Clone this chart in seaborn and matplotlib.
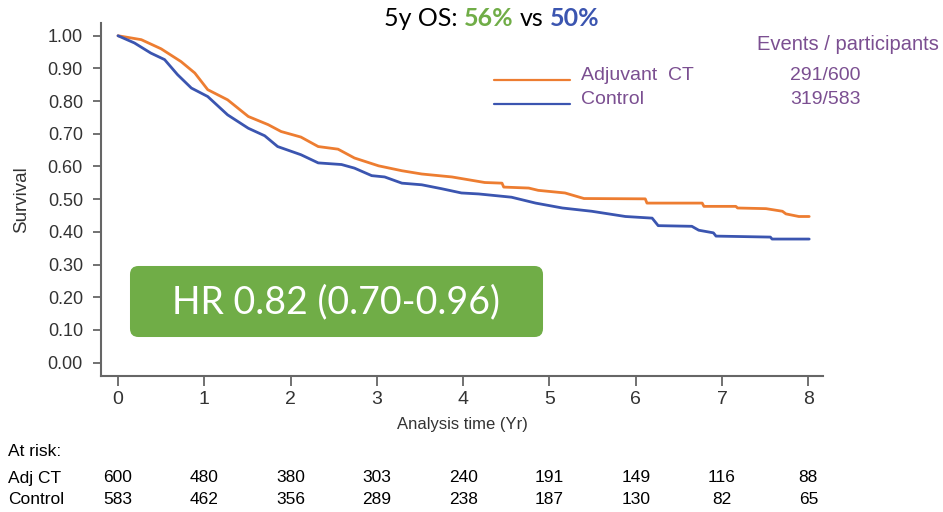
import numpy as np
import pandas as pd
import matplotlib
matplotlib.use("Agg")
import matplotlib.pyplot as plt
import seaborn as sns
from matplotlib.patches import FancyBboxPatch
from matplotlib.lines import Line2D
from matplotlib.transforms import blended_transform_factory

# Kaplan-Meier curves (time in years, survival);
# repeated times mark the visible drops
adj_time = [0, 0.27, 0.50, 0.73, 0.89, 1.04, 1.27, 1.51, 1.74, 1.89, 2.12, 2.32, 2.55,
            2.74, 3.02, 3.29, 3.52, 3.87, 4.25, 4.45, 4.47, 4.76, 4.87, 5.18, 5.40,
            6.11, 6.13, 6.77, 6.79, 7.16, 7.18, 7.51, 7.70, 7.74, 7.89, 8.01]
adj_surv = [1.00, 0.988, 0.960, 0.921, 0.886, 0.835, 0.804, 0.753, 0.728, 0.707, 0.690,
            0.661, 0.653, 0.626, 0.602, 0.587, 0.577, 0.568, 0.551, 0.549, 0.537, 0.534,
            0.527, 0.519, 0.502, 0.501, 0.488, 0.488, 0.478, 0.478, 0.473, 0.471, 0.463,
            0.455, 0.447, 0.447]

ctl_time = [0, 0.19, 0.38, 0.54, 0.69, 0.85, 1.04, 1.27, 1.51, 1.70, 1.85, 2.12, 2.32,
            2.59, 2.74, 2.94, 3.09, 3.29, 3.52, 3.75, 3.98, 4.18, 4.56, 4.84, 5.15, 5.49,
            5.88, 6.19, 6.26, 6.65, 6.73, 6.90, 6.93, 7.56, 7.58, 8.01]
ctl_surv = [1.00, 0.978, 0.947, 0.927, 0.881, 0.840, 0.814, 0.758, 0.717, 0.694, 0.661,
            0.636, 0.611, 0.606, 0.595, 0.572, 0.568, 0.549, 0.544, 0.532, 0.519, 0.516,
            0.506, 0.488, 0.473, 0.463, 0.447, 0.442, 0.419, 0.417, 0.405, 0.397, 0.387,
            0.384, 0.378, 0.378]

arms = ["Adjuvant CT", "Control"]
events = ["291/600", "319/583"]
risk_times = [0, 1, 2, 3, 4, 5, 6, 7, 8]
risk_adj = [600, 480, 380, 303, 240, 191, 149, 116, 88]
risk_ctl = [583, 462, 356, 289, 238, 187, 130, 82, 65]
y_ticks = [0.0, 0.1, 0.2, 0.3, 0.4, 0.5, 0.6, 0.7, 0.8, 0.9, 1.0]

orange = "#ed7d31"
blue = "#3b55b0"
green = "#70ad47"
purple = "#7b4f91"
grey = "#333333"

df = pd.concat([
    pd.DataFrame({"time": adj_time, "survival": adj_surv, "arm": arms[0]}),
    pd.DataFrame({"time": ctl_time, "survival": ctl_surv, "arm": arms[1]}),
])

sns.set_style("ticks")
plt.rcParams["font.family"] = ["Liberation Sans", "DejaVu Sans"]
narrow = ["Liberation Sans Narrow", "Liberation Sans", "DejaVu Sans"]
calibri = ["Lato", "DejaVu Sans"]

W, H = 943, 512
fig = plt.figure(figsize=(W / 100, H / 100), dpi=100)


def fx(px):
    return px / W


def fy(py):
    return 1 - py / H


ax = fig.add_axes([fx(101), fy(376), (823 - 101) / W, (376 - 23) / H])
sns.lineplot(data=df, x="time", y="survival", hue="arm", palette=[orange, blue],
             estimator=None, sort=False, linewidth=2, legend=False, ax=ax)

ax.set_xlim(-0.197, 8.17)
ax.set_ylim(-0.041, 1.039)
ax.set_xticks(risk_times)
ax.set_xticklabels([str(t) for t in risk_times], fontsize=14, family=narrow, color=grey)
ax.set_yticks(y_ticks)
ax.set_yticklabels([f"{v:.2f}" for v in y_ticks], fontsize=13, color=grey)
ax.tick_params(axis="x", length=7, width=1.3, color="#666666", pad=4)
ax.tick_params(axis="y", length=6, width=1.3, color="#666666", pad=7)
for s in ["top", "right"]:
    ax.spines[s].set_visible(False)
for s in ["left", "bottom"]:
    ax.spines[s].set_color("#666666")
    ax.spines[s].set_linewidth(1.5)
ax.set_xlabel("")
ax.set_ylabel("")
ax.patch.set_alpha(0)

fig.text(fx(22), fy(200), "Survival", rotation=90, ha="center", va="center",
         fontsize=13.5, color=grey)
fig.text(fx(462), fy(424), "Analysis time (Yr)", ha="center", va="center",
         fontsize=12, family=narrow, color=grey)

# at-risk table
tr = blended_transform_factory(ax.transData, fig.transFigure)
fig.text(fx(8), fy(452), "At risk:", ha="left", va="center", fontsize=12.5,
         family=narrow, color="black")
fig.text(fx(8), fy(478), "Adj CT", ha="left", va="center", fontsize=12.5,
         family=narrow, color="black")
fig.text(fx(8), fy(500), "Control", ha="left", va="center", fontsize=12.5,
         family=narrow, color="black")
for t, a, c in zip(risk_times, risk_adj, risk_ctl):
    ax.text(t, fy(478), str(a), transform=tr, ha="center", va="center",
            fontsize=12.5, family=narrow, color="black", clip_on=False)
    ax.text(t, fy(500), str(c), transform=tr, ha="center", va="center",
            fontsize=12.5, family=narrow, color="black", clip_on=False)

# legend with events column
fig.text(fx(757), fy(44), "Events / participants", ha="left", va="center",
         fontsize=14.5, color=purple)
for i, (arm, col, ev) in enumerate(zip(arms, [orange, blue], events)):
    yy = 80 + i * 24
    fig.add_artist(Line2D([fx(494), fx(570)], [fy(yy), fy(yy)], color=col, lw=1.6))
    fig.text(fx(581), fy(yy - 4), arm.replace(" ", "  "), ha="left", va="center",
             fontsize=14, color=purple)
    fig.text(fx(790), fy(yy - 4), ev, ha="left", va="center", fontsize=14, color=purple)

# title with coloured percentages
t0 = fig.text(fx(384), fy(30), "5y OS:", ha="left", va="bottom", fontsize=18,
              family=calibri, color="black")
parts = [("56%", green, "bold"), ("vs", "black", "normal"), ("50%", blue, "bold")]
prev = t0
for txt, col, wt in parts:
    prev = ax.annotate(txt, xy=(1, 0), xycoords=prev, xytext=(4.5, 0),
                       textcoords="offset points", ha="left", va="bottom",
                       fontsize=18, family=calibri, fontweight=wt, color=col,
                       annotation_clip=False)

# HR box (rounded, same corner radius in both directions)
box = FancyBboxPatch((fx(138), fy(329)), fx(543 - 138 - 8), (329 - 274) / H,
                     boxstyle="round,pad=0.0085,rounding_size=0.009",
                     mutation_aspect=W / H,
                     transform=fig.transFigure, facecolor=green, edgecolor="none")
fig.add_artist(box)
fig.text(fx(336), fy(302), "HR 0.82 (0.70-0.96)", ha="center", va="center",
         fontsize=27, family=calibri, color="white")

fig.savefig("out.png", dpi=100)
